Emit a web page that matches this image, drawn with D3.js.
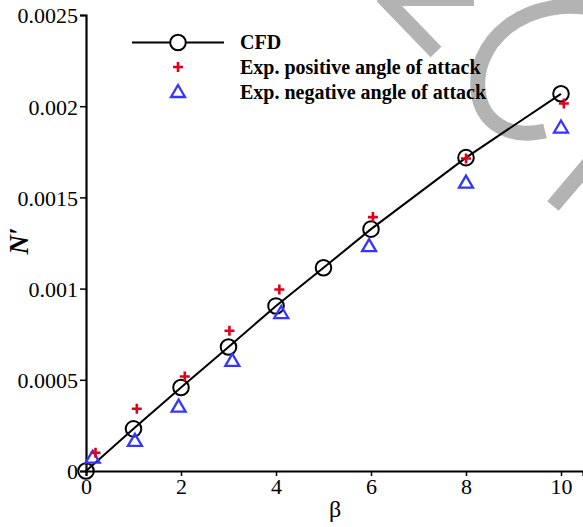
<!DOCTYPE html>
<html><head><meta charset="utf-8">
<script src="https://cdn.jsdelivr.net/npm/d3@7"></script>
<style>
html,body{margin:0;padding:0;background:#fff;}
svg{display:block;font-family:"Liberation Serif","Times New Roman",serif;}
</style></head>
<body>
<svg id="chart" width="583" height="527"></svg>
<script>
const cfdBeta = [0, 1, 2, 3, 4, 5, 6, 8, 10];
const cfdN = [0, 0.000231, 0.000458, 0.000680, 0.000905, 0.001114, 0.001326, 0.001718, 0.002068];
const posBeta = [0.2, 1.07, 2.08, 3.02, 4.07, 6.04, 8.0, 10.06];
const posN = [0.0001, 0.000341, 0.000518, 0.000769, 0.000995, 0.001392, 0.001713, 0.002015];
const negBeta = [0.14, 1.03, 1.95, 3.08, 4.11, 5.96, 8.0, 10.0];
const negN = [0.000073, 0.000165, 0.000353, 0.000604, 0.000866, 0.001233, 0.001581, 0.001883];
const xTicks = [0, 2, 4, 6, 8, 10];
const yTicks = [0, 0.0005, 0.001, 0.0015, 0.002, 0.0025];
const yTickLabels = ["0", "0.0005", "0.001", "0.0015", "0.002", "0.0025"];
const legendLabels = ["CFD", "Exp. positive angle of attack", "Exp. negative angle of attack"];

const svg = d3.select("#chart");
const x = d3.scaleLinear().domain([0, 10.4632]).range([86, 583]);
const y = d3.scaleLinear().domain([0, 0.0025]).range([471, 15]);

// watermark (decorative)
const wm = svg.append("g").attr("fill", "none").attr("stroke", "#b3b3b3").attr("stroke-width", 15);
wm.append("path").attr("d", "M 382 -4 L 436 52");
wm.append("path").attr("d", "M 392 0 L 474 0").attr("stroke-width", 12);
wm.append("path").attr("d", "M 600 10 C 528 -8, 468 42, 479 97 C 486 128, 516 138, 545 131");
wm.append("path").attr("d", "M 592 160 L 553 206");

// axes
const xAxis = d3.axisBottom(x).tickValues(xTicks).tickSize(5).tickPadding(3).tickFormat(d3.format("d"));
const gx = svg.append("g").attr("transform", "translate(0,471)").call(xAxis);
gx.select(".domain").attr("stroke", "#000").attr("stroke-width", 2.2);
gx.selectAll(".tick line").attr("stroke", "#000").attr("stroke-width", 1.5);
gx.selectAll(".tick text").attr("font-family", "Liberation Serif").attr("font-size", 22).attr("fill", "#000").attr("dy", "0.68em");

const yAxis = d3.axisLeft(y).tickValues(yTicks).tickSize(6).tickPadding(2).tickFormat((d, i) => yTickLabels[i]);
const gy = svg.append("g").attr("transform", "translate(86,0)").call(yAxis);
gy.select(".domain").attr("stroke", "#000").attr("stroke-width", 2.2);
gy.selectAll(".tick line").attr("stroke", "#000").attr("stroke-width", 1.5);
gy.selectAll(".tick text").attr("font-family", "Liberation Serif").attr("font-size", 22).attr("fill", "#000").attr("dy", "0.36em");

// axis titles
svg.append("text").attr("x", 335).attr("y", 517).attr("text-anchor", "middle")
  .attr("font-size", 24).text("β");
svg.append("text").attr("transform", "translate(28,241) rotate(-90)").attr("text-anchor", "middle")
  .attr("font-size", 27).attr("font-weight", "bold").attr("font-style", "italic").text("N′");

// data
const cfd = cfdBeta.map((b, i) => ({b, n: cfdN[i]}));
const pos = posBeta.map((b, i) => ({b, n: posN[i]}));
const neg = negBeta.map((b, i) => ({b, n: negN[i]}));

svg.append("path").datum(cfd)
  .attr("d", d3.line().x(d => x(d.b)).y(d => y(d.n)))
  .attr("fill", "none").attr("stroke", "#000").attr("stroke-width", 2);

svg.append("g").selectAll("circle").data(cfd).join("circle")
  .attr("cx", d => x(d.b)).attr("cy", d => y(d.n)).attr("r", 7.8)
  .attr("fill", "none").attr("stroke", "#000").attr("stroke-width", 2);

const plusPath = "M -5 0 L 5 0 M 0 -5 L 0 5";
const triPath = "M 0 -7 L 7 5 L -7 5 Z";
const red = "#e0001b", blue = "#3535ff";

svg.append("g").selectAll("path").data(neg).join("path")
  .attr("transform", d => `translate(${x(d.b)},${y(d.n)})`).attr("d", triPath)
  .attr("fill", "none").attr("stroke", blue).attr("stroke-width", 2.3);

svg.append("g").selectAll("path").data(pos).join("path")
  .attr("transform", d => `translate(${x(d.b)},${y(d.n)})`).attr("d", plusPath)
  .attr("fill", "none").attr("stroke", red).attr("stroke-width", 2.6);

// legend
const lg = svg.append("g");
lg.append("line").attr("x1", 132).attr("x2", 224).attr("y1", 42.5).attr("y2", 42.5)
  .attr("stroke", "#000").attr("stroke-width", 2);
lg.append("circle").attr("cx", 178).attr("cy", 42.5).attr("r", 7.8)
  .attr("fill", "#fff").attr("stroke", "#000").attr("stroke-width", 2);
lg.append("path").attr("transform", "translate(178,67)").attr("d", plusPath)
  .attr("stroke", red).attr("stroke-width", 2.6);
lg.append("path").attr("transform", "translate(178,92)").attr("d", triPath)
  .attr("fill", "none").attr("stroke", blue).attr("stroke-width", 2.3);
const ly = [49, 74, 99];
legendLabels.forEach((t, i) => {
  lg.append("text").attr("x", 240).attr("y", ly[i]).attr("font-size", 20)
    .attr("font-weight", "bold").attr("fill", "#000").text(t);
});
</script>
</body></html>
